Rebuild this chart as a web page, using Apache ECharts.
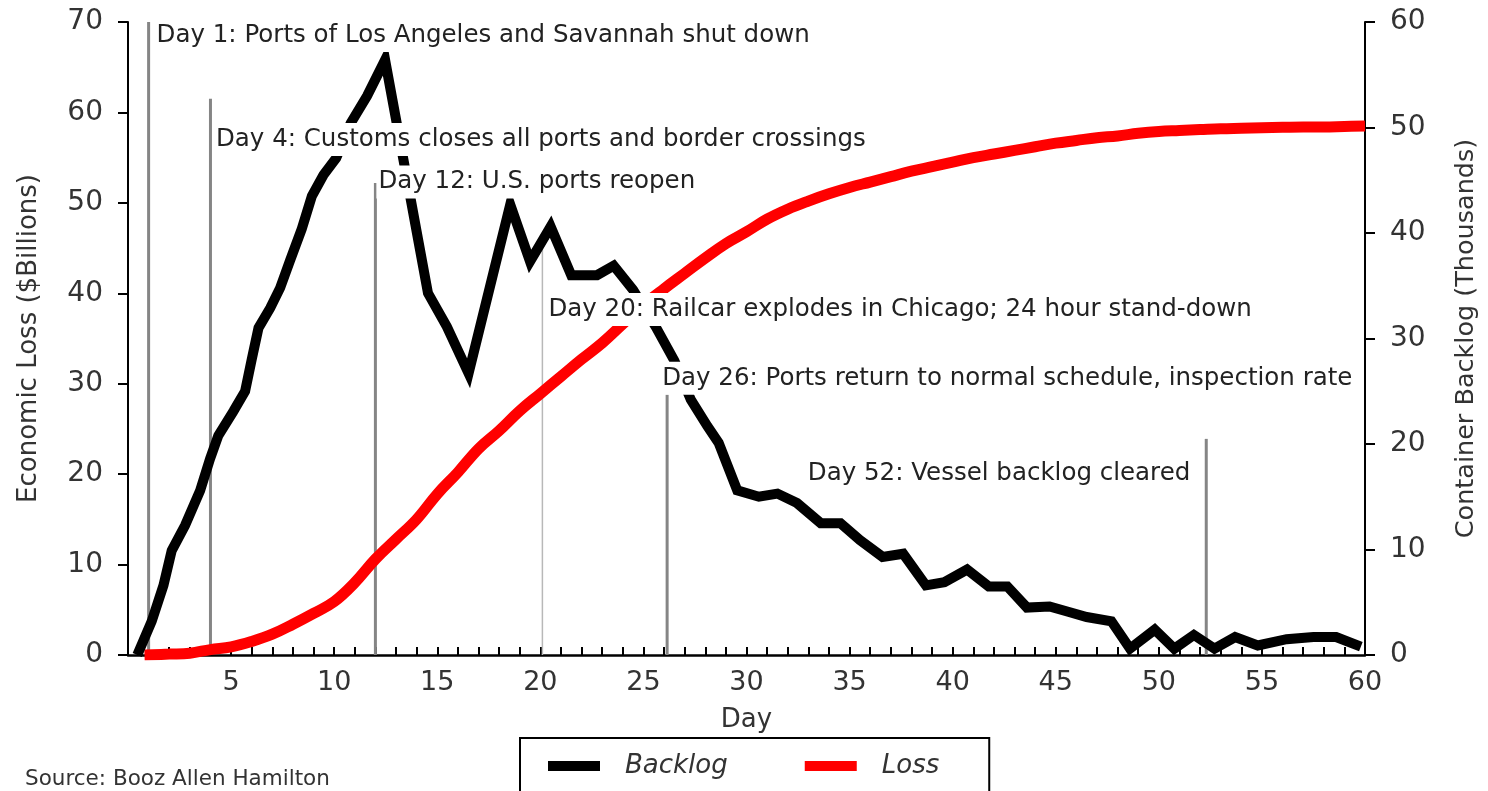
<!DOCTYPE html>
<html>
<head>
<meta charset="utf-8">
<script src="https://cdn.jsdelivr.net/npm/echarts@6/dist/echarts.min.js"></script>
<style>
  html, body { margin: 0; padding: 0; background: #fff; }
  #chart { width: 1488px; height: 791px; }
</style>
</head>
<body>
<div id="chart"></div>
<script>
// ---- Data ----
// Container backlog (thousands, right axis)
const backlogDays = [0.45,1.15,1.72,2.12,2.77,3.5,3.98,4.38,5.11,5.68,6.0,6.33,6.9,7.38,7.86,8.43,8.92,9.48,10.1,10.8,11.6,12.47,14.55,15.47,16.52,18.54,19.5,20.5,21.5,22.75,23.56,24.5,25.6,26.5,27.3,28.1,28.65,29.55,30.6,31.5,32.45,33.6,34.56,35.5,36.6,37.6,38.7,39.6,40.7,41.75,42.65,43.6,44.7,45.6,46.5,47.7,48.6,49.8,50.75,51.7,52.7,53.7,54.8,56.2,57.5,58.6,59.8];
const backlogValues = [0,3.2,6.6,9.9,12.3,15.6,18.6,20.8,23.1,25.0,28.0,31.0,32.9,34.8,37.4,40.4,43.5,45.5,47.1,50.4,53.0,56.4,34.3,31.1,26.7,42.7,37.3,40.6,36.0,36.0,36.9,34.6,31.1,27.9,24.2,21.7,20.1,15.6,15.0,15.3,14.4,12.5,12.5,10.9,9.3,9.6,6.6,6.9,8.1,6.5,6.5,4.5,4.6,4.1,3.6,3.2,0.6,2.4,0.6,1.9,0.6,1.7,0.9,1.5,1.7,1.7,0.8];

// Economic loss ($ billions, left axis)
const lossDays = [0.8,2,3,4,5,6,7,8,9,10,11,12,13,14,15,16,17,18,19,20,21,22,23,24,25,26,27,28,29,30,31,32,33,34,35,36,37,38,39,40,41,42,43,44,45,46,47,48,49,50,51,52,53,54,55,56,57,58,59,60];
const lossValues = [0.0,0.1,0.2,0.6,0.9,1.5,2.3,3.4,4.6,5.9,8.0,10.6,12.8,15.0,17.8,20.2,22.8,24.8,27.0,28.9,30.8,32.7,34.5,36.6,38.7,40.5,42.2,43.9,45.5,46.8,48.2,49.3,50.2,51.0,51.7,52.3,52.9,53.5,54.0,54.5,55.0,55.4,55.8,56.2,56.6,56.9,57.2,57.4,57.7,57.9,58.0,58.1,58.2,58.25,58.3,58.35,58.4,58.4,58.45,58.5];

// Event markers
const eventDays = [1, 4, 12, 20.1, 26.15, 52.3];
const eventLineTops = [70, 61.5, 52.2, 45, 28.8, 23.9];       // left-axis units
const eventLabelY = [68.5, 57.0, 52.3, 38.2, 30.6, 20.1];      // left-axis units
const eventTexts = [
  'Day 1: Ports of Los Angeles and Savannah shut down',
  'Day 4: Customs closes all ports and border crossings',
  'Day 12: U.S. ports reopen',
  'Day 20: Railcar explodes in Chicago; 24 hour stand-down',
  'Day 26: Ports return to normal schedule, inspection rate',
  'Day 52: Vessel backlog cleared'
];

// Axis ticks
const xTicks = { min: 0, max: 60, interval: 5 };
const leftTicks = { min: 0, max: 70, interval: 10 };
const rightTicks = { min: 0, max: 60, interval: 10 };

// ---- Chart ----
const FONT = 'DejaVu Sans';
const TXT = '#333';
const chart = echarts.init(document.getElementById('chart'), null, { renderer: 'canvas' });

const labelOffsets = [6, 3.5, 1, 4, -7, -14];
const labelAligns = ['left', 'left', 'left', 'left', 'left', 'right'];

const option = {
  animation: false,
  backgroundColor: '#fff',
  textStyle: { fontFamily: FONT },
  title: {
    text: 'Source: Booz Allen Hamilton',
    left: 20, top: 763,
    textStyle: { fontSize: 21.5, fontWeight: 'normal', color: TXT, fontFamily: FONT }
  },
  legend: {
    data: ['Backlog', 'Loss'],
    left: 520, top: 738,
    padding: [15, 50, 18, 28],
    itemGap: 77,
    itemWidth: 52, itemHeight: 10,
    icon: 'rect',
    borderColor: '#000', borderWidth: 2,
    textStyle: { fontStyle: 'italic', fontSize: 26, color: TXT, fontFamily: FONT, padding: [0, 0, 0, 20] }
  },
  grid: { left: 128, right: 123, top: 22, bottom: 136, containLabel: false },
  xAxis: {
    type: 'value', min: xTicks.min, max: xTicks.max, interval: xTicks.interval,
    name: 'Day', nameLocation: 'middle', nameGap: 52,
    nameTextStyle: { fontSize: 26, color: TXT },
    axisLine: { lineStyle: { color: '#000', width: 2.5 } },
    axisTick: { inside: true, length: 8, lineStyle: { color: '#000', width: 2 } },
    minorTick: { show: true, splitNumber: 5, length: 8, lineStyle: { color: '#000', width: 2 } },
    axisLabel: { fontSize: 27, color: TXT, margin: 14, formatter: v => (v === 0 ? '' : String(v)) },
    splitLine: { show: false }
  },
  yAxis: [
    {
      type: 'value', position: 'left', min: leftTicks.min, max: leftTicks.max, interval: leftTicks.interval,
      name: 'Economic Loss ($Billions)', nameLocation: 'middle', nameGap: 86,
      nameTextStyle: { fontSize: 26, color: TXT },
      axisLine: { show: true, lineStyle: { color: '#000', width: 2 } },
      axisTick: { show: true, inside: false, length: 10, lineStyle: { color: '#000', width: 2 } },
      axisLabel: { fontSize: 28, color: TXT, margin: 25 },
      splitLine: { show: false }
    },
    {
      type: 'value', position: 'right', min: rightTicks.min, max: rightTicks.max, interval: rightTicks.interval,
      name: 'Container Backlog (Thousands)', nameLocation: 'middle', nameGap: 88,
      nameTextStyle: { fontSize: 25.5, color: TXT },
      axisLine: { show: true, lineStyle: { color: '#000', width: 2 } },
      axisTick: { show: true, inside: false, length: 10, lineStyle: { color: '#000', width: 2 } },
      axisLabel: { fontSize: 28, color: TXT, margin: 25 },
      splitLine: { show: false }
    }
  ],
  series: [
    {
      name: 'events',
      type: 'custom',
      xAxisIndex: 0, yAxisIndex: 0,
      z: 1, silent: true,
      data: eventDays.map((d, i) => [d, eventLineTops[i], i]),
      encode: { x: 0, y: 1 },
      renderItem: function (params, api) {
        const x = api.value(0), top = api.value(1), idx = api.value(2);
        const p0 = api.coord([x, 0]);
        const p1 = api.coord([x, top]);
        const thin = idx === 3;
        return {
          type: 'line',
          shape: { x1: p0[0], y1: p0[1], x2: p1[0], y2: p1[1] },
          style: { stroke: thin ? '#b8b8b8' : '#858585', lineWidth: thin ? 1.5 : 3 }
        };
      }
    },
    {
      name: 'Loss',
      type: 'line',
      xAxisIndex: 0, yAxisIndex: 0,
      z: 3,
      color: '#ff0000',
      smooth: 0.4,
      showSymbol: false, symbol: 'none',
      lineStyle: { color: '#ff0000', width: 11, cap: 'butt' },
      data: lossDays.map((d, i) => [d, lossValues[i]])
    },
    {
      name: 'Backlog',
      type: 'line',
      xAxisIndex: 0, yAxisIndex: 1,
      z: 4,
      color: '#000000',
      showSymbol: false, symbol: 'none',
      lineStyle: { color: '#000000', width: 10, join: 'miter', cap: 'butt' },
      data: backlogDays.map((d, i) => [d, backlogValues[i]])
    },
    {
      name: 'eventLabels',
      type: 'scatter',
      xAxisIndex: 0, yAxisIndex: 0,
      z: 20, silent: true,
      symbol: 'circle', symbolSize: 1,
      itemStyle: { color: 'rgba(0,0,0,0)' },
      data: eventDays.map((d, i) => ({
        value: [d, eventLabelY[i]],
        label: {
          show: true,
          position: 'inside',
          align: labelAligns[i],
          verticalAlign: 'middle',
          offset: [labelOffsets[i], 0],
          formatter: eventTexts[i],
          fontSize: 24.5,
          fontFamily: FONT,
          color: '#222',
          opacity: 1,
          backgroundColor: '#fff',
          padding: [4, 2]
        }
      }))
    }
  ]
};
chart.setOption(option);
</script>
</body>
</html>
